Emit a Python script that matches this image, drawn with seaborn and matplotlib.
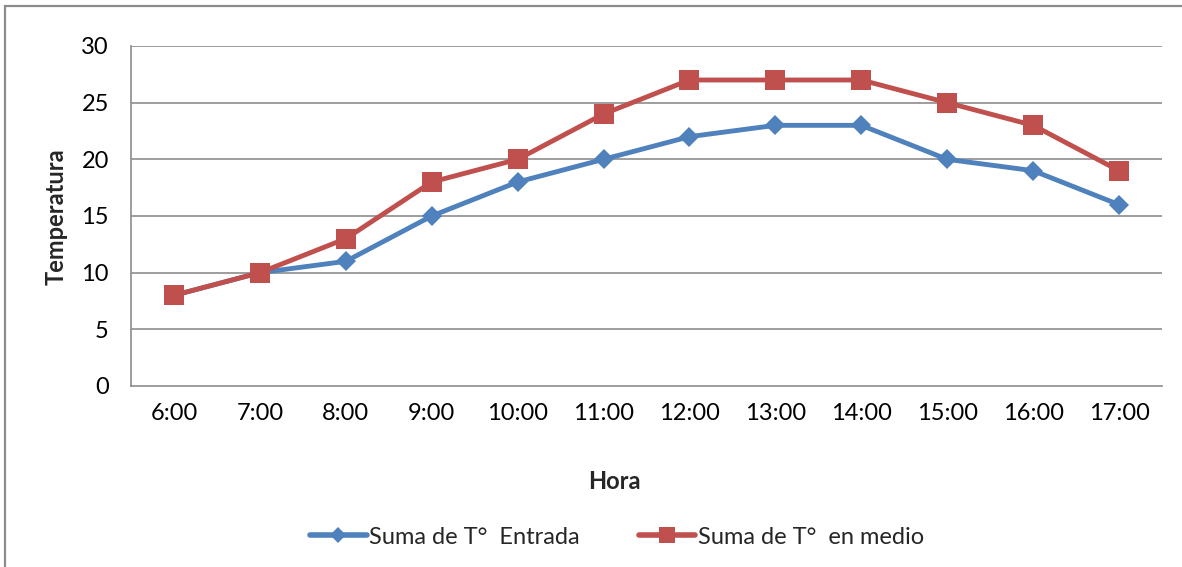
import matplotlib
matplotlib.use("Agg")
import matplotlib.pyplot as plt
from matplotlib.patches import Rectangle
import seaborn as sns
import pandas as pd

horas = ["6:00", "7:00", "8:00", "9:00", "10:00", "11:00",
         "12:00", "13:00", "14:00", "15:00", "16:00", "17:00"]
t_entrada = [8, 10, 11, 15, 18, 20, 22, 23, 23, 20, 19, 16]
t_medio = [8, 10, 13, 18, 20, 24, 27, 27, 27, 25, 23, 19]
serie_entrada = "Suma de T°  Entrada"
serie_medio = "Suma de T°  en medio"

df = pd.DataFrame({
    "Hora": list(range(len(horas))) * 2,
    "Temperatura": t_entrada + t_medio,
    "Serie": [serie_entrada] * len(horas) + [serie_medio] * len(horas),
})

sns.set_theme(style="white")
plt.rcParams["font.family"] = ["Lato", "DejaVu Sans"]

W, H = 1182, 567
fig = plt.figure(figsize=(W / 100, H / 100), dpi=100)
x0, x1, y_top, y_bot = 131, 1162, 46, 386
ax = fig.add_axes([x0 / W, 1 - y_bot / H, (x1 - x0) / W, (y_bot - y_top) / H])

grid_color = "#8c8c8c"
for y in range(5, 31, 5):
    ax.axhline(y, color=grid_color, lw=1.2, zorder=0)

sns.lineplot(
    data=df, x="Hora", y="Temperatura", hue="Serie", style="Serie",
    palette={serie_entrada: "#4F81BD", serie_medio: "#C0504D"},
    markers={serie_entrada: "D", serie_medio: "s"},
    dashes=False, linewidth=3.5, markersize=14.5, markeredgewidth=0,
    ax=ax, zorder=3,
)
for line in ax.lines:
    if line.get_marker() == "D":
        line.set_markersize(10.2)

ax.set_xlim(-0.5, len(horas) - 0.5)
ax.set_ylim(0, 30)
ax.set_yticks(range(0, 31, 5))
ax.set_xticks(range(len(horas)))
ax.set_xticklabels(horas)
ax.tick_params(axis="both", labelsize=17, length=0, colors="black")
ax.tick_params(axis="x", pad=12)
ax.tick_params(axis="y", pad=16)

for side in ["top", "right"]:
    ax.spines[side].set_visible(False)
for side in ["left", "bottom"]:
    ax.spines[side].set_color(grid_color)
    ax.spines[side].set_linewidth(1.2)

ax.set_xlabel("Hora", fontsize=17, fontweight="bold")
ax.set_ylabel("Temperatura", fontsize=17, fontweight="bold")
ax.xaxis.set_label_coords((614 - x0) / (x1 - x0), -(470 - y_bot) / (y_bot - y_top))
ax.yaxis.set_label_coords(-(x0 - 68) / (x1 - x0), (y_bot - 217) / (y_bot - y_top))

handles, labels = ax.get_legend_handles_labels()
for h in handles:
    h.set_linewidth(4)
    h.set_markersize(h.get_markersize() * 0.75)
ax.legend(handles, labels, loc="center", bbox_to_anchor=(617 / W, 1 - 537 / H),
          bbox_transform=fig.transFigure, ncol=2, frameon=False,
          fontsize=17, handlelength=2.4, handletextpad=0.1, columnspacing=2.5)

fig.patches.append(Rectangle((5 / W, -0.1), 1.2, 1.1 - 6 / H,
                             transform=fig.transFigure, fill=False,
                             edgecolor="#8c8c8c", lw=1.6))

fig.savefig("out.png", dpi=100)
